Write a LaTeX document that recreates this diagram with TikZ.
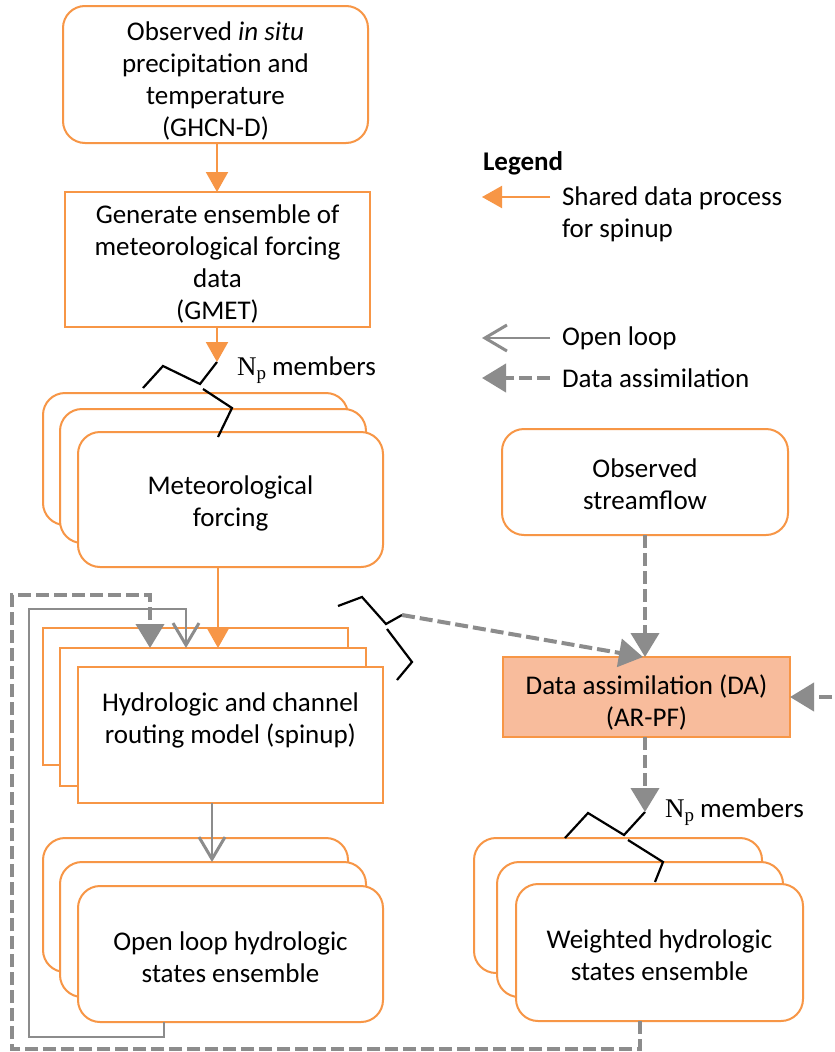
\documentclass[tikz,border=0pt]{standalone}
\usepackage[no-math]{fontspec}
\setmainfont{Carlito}
\newfontfamily\nserif{Liberation Serif}
\usetikzlibrary{arrows.meta,calc}
\definecolor{org}{HTML}{F79646}
\definecolor{dafill}{HTML}{F8BC9C}
\definecolor{gdash}{HTML}{8C8C8C}
\definecolor{gthin}{HTML}{A6A6A6}
\newcommand{\npsym}{{\nserif N\raisebox{-0.35ex}{\fontsize{19}{19}\selectfont p}}}
\begin{document}
\begin{tikzpicture}[x=1pt,y=-1pt,
  every node/.style={font=\fontsize{27}{32}\selectfont, inner sep=0pt, outer sep=0pt},
  rbox/.style={draw=org, line width=2pt, fill=white, rounded corners=22pt, align=center},
  sbox/.style={draw=org, line width=2pt, fill=white, align=center},
  txt/.style={align=center},
  oarr/.style={color=org, line width=2pt, -{Triangle[width=22pt,length=20pt]}},
  garr/.style={color=gdash, line width=2pt, -{Straight Barb[width=26pt,length=22pt,line width=3pt]}},
  darr/.style={color=gdash, line width=4pt, dash pattern=on 13pt off 5pt, -{Triangle[width=28pt,length=24pt]}},
  thinline/.style={color=gthin, line width=1.5pt},
  bracel/.style={draw=black, line width=2.2pt, line join=miter}
]
\useasboundingbox (0,0) rectangle (835,1052);
\fill[white] (0,0) rectangle (835,1052);

% top boxes
\node[rbox, minimum width=305pt, minimum height=137pt] (b1) at (215.5,74.5) {};
\node[txt] (b1t) at (215.5,81) {Observed \textit{in situ}\\precipitation and\\temperature\\(GHCN-D)};
\node[sbox, minimum width=305pt, minimum height=135pt] (b2) at (217.5,259.5) {};
\node[txt] (b2t) at (217.5,263.5) {Generate ensemble of\\meteorological forcing\\data\\(GMET)};

% meteorological forcing stack
\node[rbox, minimum width=305pt, minimum height=132pt] (mB) at (195.5,459) {};
\node[rbox, minimum width=306pt, minimum height=134pt] (mM) at (213,476) {};
\node[rbox, minimum width=305pt, minimum height=135pt] (mF) at (230.5,499.5) {};
\node[txt] (mFt) at (230.5,503.5) {Meteorological\\forcing};

% hydrologic stack
\node[sbox, minimum width=305pt, minimum height=137pt] (hB) at (195.5,696.5) {};
\node[sbox, minimum width=306pt, minimum height=138pt] (hM) at (213,717) {};
\node[sbox, minimum width=305pt, minimum height=136pt] (hF) at (230.5,735) {};
\node[txt] (hFt) at (230.5,720) {Hydrologic and channel\\routing model (spinup)};

% open loop stack
\node[rbox, minimum width=305pt, minimum height=134pt] (oB) at (195.5,905) {};
\node[rbox, minimum width=306pt, minimum height=135pt] (oM) at (213,929.5) {};
\node[rbox, minimum width=305pt, minimum height=136pt] (oF) at (230.5,954) {};
\node[txt] (oFt) at (230.5,957.5) {Open loop hydrologic\\states ensemble};

% streamflow and DA
\node[rbox, minimum width=286pt, minimum height=106pt] (sf) at (645,482) {};
\node[txt] (sft) at (645,484) {Observed\\streamflow};
\node[sbox, fill=dafill, minimum width=287pt, minimum height=80pt] (da) at (646.5,697) {};
\node[txt] (dat) at (646.5,702.5) {Data assimilation (DA)\\(AR-PF)};

% weighted stack
\node[rbox, minimum width=288pt, minimum height=135pt] (wB) at (618,905.5) {};
\node[rbox, minimum width=286pt, minimum height=135pt] (wM) at (640,929.5) {};
\node[rbox, minimum width=287pt, minimum height=137pt] (wF) at (659.5,952.5) {};
\node[txt] (wFt) at (659.5,955.5) {Weighted hydrologic\\states ensemble};

% brace tips
\coordinate (np1) at (217,362);
\coordinate (np2) at (402,615);
\coordinate (np3) at (645,812);

% braces
\draw[bracel] (143,388) -- (163,366) -- (200,384) -- (np1);
\draw[bracel] (203,389) -- (232,408) -- (218,437);
\draw[bracel] (338,606) -- (362,597) -- (386,624) -- (np2);
\draw[bracel] (387,629) -- (412,662) -- (397,680);
\draw[bracel] (565,838) -- (588,813) -- (624,835) -- (np3);
\draw[bracel] (628,840) -- (663,862) -- (655,882);

\node[anchor=west] (np1t) at (237,370) {\npsym\ members};
\node[anchor=west] (np3t) at (665,812) {\npsym\ members};

% orange arrows
\draw[oarr] (b1.south -| 217,0) -- (b2.north -| 217,0);
\draw[oarr] (b2.south -| 217,0) -- (np1);
\draw[oarr] (mF.south -| 218,0) -- (hM.north -| 218,0);

% open loop
\draw[garr] (hF.south -| 212,0) -- (oM.north -| 212,0);
\draw[thinline, -{Straight Barb[width=26pt,length=22pt,line width=3pt]}, color=gdash]
  (oF.south -| 164,0) -- (164,1037) -| (29,609) -| (hM.north -| 186,0);

% data assimilation
\draw[darr] (wF.south -| 640,0) -- (640,1049) -| (12,595) -| (hM.north -| 150,0);
\draw[darr] (sf.south -| 645,0) -- (da.north -| 645,0);
\draw[darr] (np2) -- (da.north -| 643,0);
\draw[darr] (850,697) -- (da.east);
\draw[darr] (da.south -| 645,0) -- (np3);

% legend
\node[anchor=west, font=\fontsize{27}{32}\selectfont\bfseries] (leg) at (483,163) {Legend};
\coordinate (l1a) at (550,197); \coordinate (l1b) at (482,197);
\coordinate (l2a) at (550,338); \coordinate (l2b) at (482,338);
\coordinate (l3a) at (550,378); \coordinate (l3b) at (482,378);
\draw[oarr] (l1a) -- (l1b);
\draw[garr] (l2a) -- (l2b);
\draw[darr] (l3a) -- (l3b);
\node[anchor=west, align=left] (leg1) at (562,214.5) {Shared data process\\for spinup};
\node[anchor=west] (leg2) at (562,338) {Open loop};
\node[anchor=west] (leg3) at (562,378) {Data assimilation};
\end{tikzpicture}
\end{document}
